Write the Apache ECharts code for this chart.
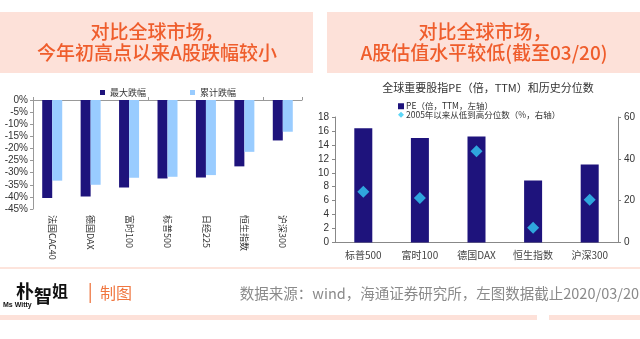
<!DOCTYPE html>
<html>
<head>
<meta charset="utf-8">
<script src="https://cdn.jsdelivr.net/npm/echarts@6/dist/echarts.min.js"></script>
<style>
html,body{margin:0;padding:0;background:#fff;}
#c{width:640px;height:339px;}
</style>
</head>
<body>
<div id="c"></div>
<script>
// ---- data ----
var leftCategories = ['法国CAC40','德国DAX','富时100','标普500','日经225','恒生指数','沪深300'];
var maxDrawdown = [-40.5,-39.8,-36.1,-32.4,-32.0,-27.4,-16.7];
var cumDrop = [-33.3,-35.0,-32.1,-31.7,-31.0,-21.4,-13.1];
var leftTicks = {min:-45, max:0, interval:5};

var rightCategories = ['标普500','富时100','德国DAX','恒生指数','沪深300'];
var peValues = [16.4,15.0,15.2,8.9,11.2];
var pctValues = [24.3,21.3,43.6,7.1,20.4];
var peTicks = {min:0, max:18, interval:2};
var pctTicks = {min:0, max:60, interval:20};

var CJK = '"Noto Sans CJK SC", "Noto Sans", sans-serif';
var ARIAL = '"Liberation Sans", Arial, sans-serif';
var DARK = '#1e137c';
var LIGHT = '#99ccff';
var CYAN = '#33ccf5';
var ORANGE = '#ef5d2c';
var PINK = '#fde1d9';

var chart = echarts.init(document.getElementById('c'), null, {renderer:'canvas'});
chart.setOption({
  backgroundColor:'#ffffff',
  animation:false,
  textStyle:{fontFamily:CJK},
  grid:[
    {left:33, top:100, width:269, height:109},
    {left:335, top:117, width:283, height:125.5}
  ],
  legend:[
    {
      data:['最大跌幅','累计跌幅'],
      left:95, top:83, itemWidth:5, itemHeight:5, itemGap:44, icon:'rect',
      textStyle:{fontSize:9, color:'#333', fontFamily:CJK}
    },
    {
      data:[{name:'PE（倍，TTM，左轴）', icon:'rect'},{name:'2005年以来从低到高分位数（%，右轴）', icon:'diamond'}],
      orient:'vertical', left:393, top:97, itemWidth:6, itemHeight:6, itemGap:0,
      textStyle:{fontSize:8.5, color:'#333', fontFamily:CJK, lineHeight:7, padding:[0,0,0,-3]}
    }
  ],
  xAxis:[
    {
      type:'category', gridIndex:0, position:'bottom', data:leftCategories,
      axisLine:{show:false, onZero:false}, axisTick:{show:false},
      axisLabel:{rotate:-90, margin:6, fontSize:9, color:'#333', fontFamily:CJK, interval:0}
    },
    {
      type:'category', gridIndex:0, position:'top', data:leftCategories,
      axisLine:{show:true, onZero:false, lineStyle:{color:'#999', width:1}},
      axisTick:{show:true, length:3, lineStyle:{color:'#999'}},
      axisLabel:{show:false}
    },
    {
      type:'category', gridIndex:1, data:rightCategories,
      axisLine:{show:true, lineStyle:{color:'#888', width:1}},
      axisTick:{show:false},
      axisLabel:{margin:8, fontSize:10, color:'#444', fontFamily:CJK, interval:0}
    }
  ],
  yAxis:[
    {
      type:'value', gridIndex:0, min:leftTicks.min, max:leftTicks.max, interval:leftTicks.interval,
      axisLine:{show:true, lineStyle:{color:'#999'}},
      axisTick:{show:true, length:3, lineStyle:{color:'#999'}},
      splitLine:{show:false},
      axisLabel:{formatter:'{value}%', fontSize:10, color:'#333', fontFamily:ARIAL, margin:5}
    },
    {
      type:'value', gridIndex:1, min:peTicks.min, max:peTicks.max, interval:peTicks.interval,
      position:'left',
      axisLine:{show:true, lineStyle:{color:'#888'}},
      axisTick:{show:true, length:3, lineStyle:{color:'#888'}},
      splitLine:{show:false},
      axisLabel:{fontSize:10, color:'#333', fontFamily:ARIAL, margin:6}
    },
    {
      type:'value', gridIndex:1, min:pctTicks.min, max:pctTicks.max, interval:pctTicks.interval,
      position:'right',
      axisLine:{show:true, lineStyle:{color:'#888'}},
      axisTick:{show:true, length:3, lineStyle:{color:'#888'}},
      splitLine:{show:false},
      axisLabel:{fontSize:10, color:'#333', fontFamily:ARIAL, margin:6}
    }
  ],
  series:[
    {name:'最大跌幅', type:'bar', xAxisIndex:0, yAxisIndex:0, data:maxDrawdown,
     barWidth:10, barGap:'0%', itemStyle:{color:DARK}},
    {name:'累计跌幅', type:'bar', xAxisIndex:0, yAxisIndex:0, data:cumDrop,
     barWidth:10, barGap:'0%', itemStyle:{color:LIGHT}},
    {name:'PE（倍，TTM，左轴）', type:'bar', xAxisIndex:2, yAxisIndex:1, data:peValues,
     barWidth:18, itemStyle:{color:DARK}},
    {name:'2005年以来从低到高分位数（%，右轴）', type:'scatter', xAxisIndex:2, yAxisIndex:2, data:pctValues,
     symbol:'diamond', symbolSize:12, itemStyle:{color:CYAN}, z:5}
  ],
  graphic:[
    {type:'rect', shape:{x:0, y:12, width:313, height:61}, style:{fill:PINK}, z:-1},
    {type:'rect', shape:{x:327, y:12, width:313, height:61}, style:{fill:PINK}, z:-1},
    {type:'text', x:157, y:32, style:{text:'对比全球市场，', fill:ORANGE, font:'500 19px '+CJK, textAlign:'center', textVerticalAlign:'middle'}},
    {type:'text', x:157, y:53, style:{text:'今年初高点以来A股跌幅较小', fill:ORANGE, font:'500 19px '+CJK, textAlign:'center', textVerticalAlign:'middle'}},
    {type:'text', x:485, y:32, style:{text:'对比全球市场，', fill:ORANGE, font:'500 19px '+CJK, textAlign:'center', textVerticalAlign:'middle'}},
    {type:'text', x:484, y:53, style:{text:'A股估值水平较低(截至03/20)', fill:ORANGE, font:'500 19px '+CJK, textAlign:'center', textVerticalAlign:'middle'}},
    {type:'text', x:488, y:88, style:{text:'全球重要股指PE（倍，TTM）和历史分位数', fill:'#333', font:'11px '+CJK, textAlign:'center', textVerticalAlign:'middle'}},
    {type:'rect', shape:{x:0, y:267, width:640, height:2}, style:{fill:'#fde4dc'}},
    {type:'rect', shape:{x:0, y:315, width:537, height:5}, style:{fill:'#fde1d9'}},
    {type:'rect', shape:{x:549, y:315, width:91, height:5}, style:{fill:'#fde1d9'}},
    {type:'text', x:16, y:291, style:{text:'朴', fill:'#111', font:'bold 18px '+CJK, textVerticalAlign:'middle'}},
    {type:'text', x:34, y:296, style:{text:'智', fill:'#111', font:'bold 18px '+CJK, textVerticalAlign:'middle'}},
    {type:'text', x:52, y:291, style:{text:'姐', fill:'#111', font:'bold 16px '+CJK, textVerticalAlign:'middle'}},
    {type:'text', x:3, y:305, style:{text:'Ms Witty', fill:'#111', font:'bold 7px '+ARIAL, textVerticalAlign:'middle'}},
    {type:'rect', shape:{x:89.5, y:283, width:1.5, height:20}, style:{fill:'#f08a5d'}},
    {type:'text', x:100, y:293, style:{text:'制图', fill:'#f0763f', font:'16px '+CJK, textVerticalAlign:'middle'}},
    {type:'text', x:639, y:293, style:{text:'数据来源：wind，海通证券研究所，左图数据截止2020/03/20', fill:'#8a8a8a', font:'14.5px '+CJK, textAlign:'right', textVerticalAlign:'middle'}}
  ]
});
</script>
</body>
</html>
